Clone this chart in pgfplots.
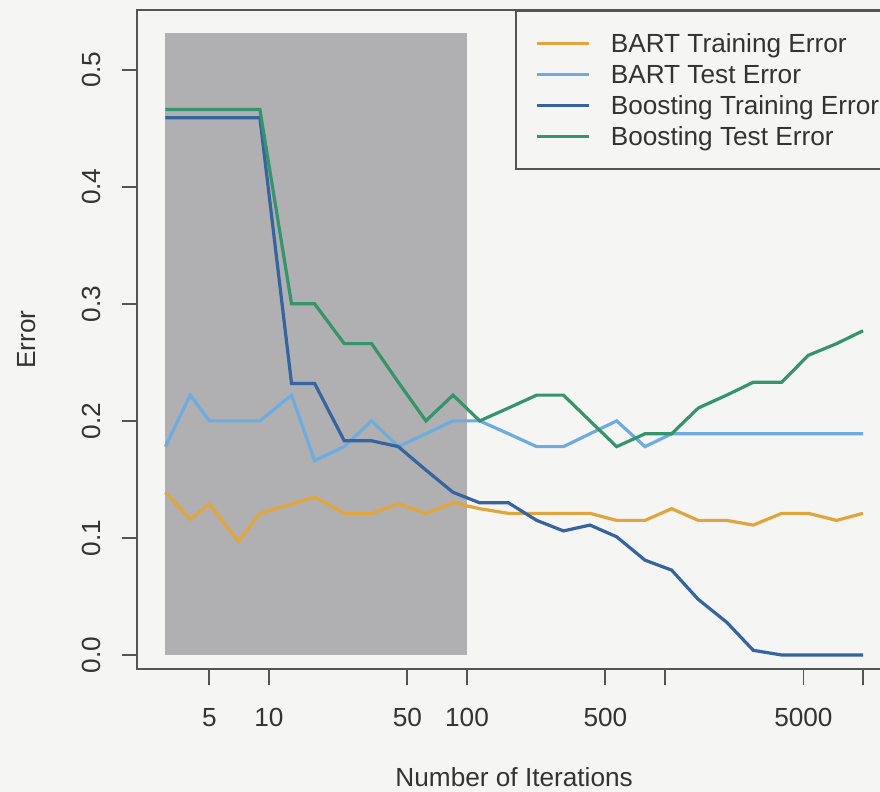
\documentclass[border=0pt]{standalone}
\usepackage{fontspec}
\setmainfont{Liberation Sans}
\usepackage{pgfplots}
\pgfplotsset{compat=1.18}
\definecolor{bgcol}{RGB}{245,245,243}
\definecolor{rectcol}{RGB}{176,176,178}
\definecolor{axiscol}{RGB}{85,85,85}
\definecolor{corange}{RGB}{224,165,60}
\definecolor{csky}{RGB}{108,172,222}
\definecolor{cdblue}{RGB}{54,100,158}
\definecolor{cgreen}{RGB}{54,148,108}
\begin{document}
\fontsize{13.1pt}{15.5pt}\selectfont
\begin{tikzpicture}
\fill[bgcol] (-68.65pt,-61.35pt) rectangle (371.35pt,334.65pt);
\begin{axis}[
  at={(0pt,0pt)}, anchor=south west,
  scale only axis, width=376.85pt, height=329.65pt,
  xmode=log, xmin=2.163, xmax=13848, ymin=-0.0122, ymax=0.551,
  axis line style={draw=axiscol, line width=0.9pt},
  tick pos=left, tick align=outside, major tick length=7.75pt,
  every tick/.style={draw=axiscol, line width=0.9pt},
  xtick={5,10,50,100,500,1000,5000,10000},
  xticklabels={5,10,50,100,500,,5000,},
  minor xtick={},
  ytick={0,0.1,0.2,0.3,0.4,0.5},
  yticklabels={0.0,0.1,0.2,0.3,0.4,0.5},
  xticklabel style={yshift=-16.35pt, anchor=center, text=black!80},
  yticklabel style={xshift=-15pt, rotate=90, anchor=center, text=black!80},
  xlabel={Number of Iterations},
  ylabel={Error},
  xlabel style={at={([yshift=-53.85pt]axis description cs:0.5,0)}, anchor=center, text=black!80},
  ylabel style={at={([xshift=-55.15pt]axis description cs:0,0.5)}, anchor=center, rotate=0, text=black!80},
  legend style={at={(rel axis cs:1,1)}, anchor=north east, draw=axiscol, line width=0.9pt,
    fill=bgcol, inner xsep=0pt, inner ysep=8.5pt, cells={anchor=west},
    nodes={inner sep=0pt, text height=12.4pt, text depth=3.1pt, text=black!80},
    row sep=0pt, column sep=0pt},
  legend image code/.code={\path[draw=none, fill=none] (0pt,-7.75pt) rectangle (47.5pt,7.75pt);
    \draw[#1] (10.65pt,0pt) -- (36.65pt,0pt);},
  every axis plot/.append style={line width=1.6pt},
]
\addplot[fill=rectcol, draw=none, forget plot] coordinates {(3,0) (100,0) (100,0.5316) (3,0.5316)} -- cycle;

\addplot[corange] coordinates {
(3,0.139) (4,0.116) (5,0.129) (7,0.097) (9,0.121) (13,0.129) (17,0.135) (24,0.121) (33,0.121)
(45,0.129) (62,0.121) (85,0.130) (116,0.125) (162,0.121) (225,0.121) (307,0.121) (418,0.121)
(570,0.115) (793,0.115) (1081,0.125) (1473,0.115) (2049,0.115) (2792,0.111) (3886,0.121)
(5292,0.121) (7362,0.115) (10000,0.121)};
\addlegendentry{\makebox[139.65pt][l]{BART Training Error}}

\addplot[csky] coordinates {
(3,0.178) (4,0.222) (5,0.2) (7,0.2) (9,0.2) (13,0.222) (17,0.166) (24,0.178) (33,0.2)
(45,0.178) (62,0.189) (85,0.2) (116,0.2) (162,0.189) (225,0.178) (307,0.178) (418,0.189)
(570,0.2) (793,0.178) (1081,0.189) (1473,0.189) (2049,0.189) (2792,0.189) (3886,0.189)
(5292,0.189) (7362,0.189) (10000,0.189)};
\addlegendentry{\makebox[139.65pt][l]{BART Test Error}}

\addplot[cdblue] coordinates {
(3,0.459) (4,0.459) (5,0.459) (7,0.459) (9,0.459) (13,0.232) (17,0.232) (24,0.183) (33,0.183)
(45,0.178) (62,0.158) (85,0.139) (116,0.130) (162,0.130) (225,0.115) (307,0.106) (418,0.111)
(570,0.101) (793,0.081) (1081,0.0725) (1473,0.0475) (2049,0.028) (2792,0.004) (3886,0)
(5292,0) (7362,0) (10000,0)};
\addlegendentry{\makebox[139.65pt][l]{Boosting Training Error}}

\addplot[cgreen] coordinates {
(3,0.466) (4,0.466) (5,0.466) (7,0.466) (9,0.466) (13,0.300) (17,0.300) (24,0.266) (33,0.266)
(45,0.233) (62,0.2) (85,0.222) (116,0.2) (162,0.211) (225,0.222) (307,0.222) (418,0.2)
(570,0.178) (793,0.189) (1081,0.189) (1473,0.211) (2049,0.222) (2792,0.233) (3886,0.233)
(5292,0.256) (7362,0.266) (10000,0.277)};
\addlegendentry{\makebox[139.65pt][l]{Boosting Test Error}}
\end{axis}
\pgfresetboundingbox
\useasboundingbox (-68.65pt,-61.35pt) rectangle (371.35pt,334.65pt);
\end{tikzpicture}
\end{document}
